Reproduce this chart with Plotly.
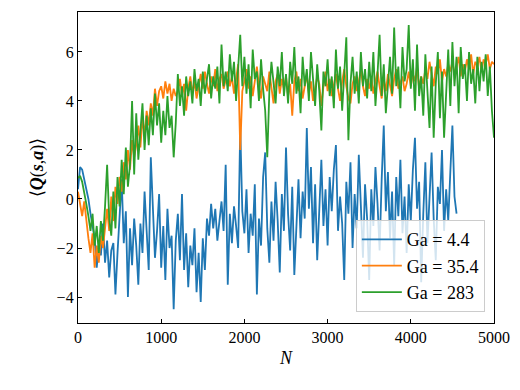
import plotly.graph_objects as go

N_STEP = 25

ga_283 = [
    0.85, 0.95, 0.7, 0.3, -0.2, -0.7, -1.3, -0.6, -1.9, -1.1, -2.2, -0.9, -1.7, -0.3, 1.4, -0.8, -1.5, 0.3, -1.2, 0.9,
    -0.3, 1.6, 0.2, 2.1, 0.5, 1.4, 4.0, 1.0, 3.5, 1.6, 2.6, 3.9, 2.0, 3.4, 2.2, 3.7, 2.6, 4.3, 3.0, 3.9,
    2.3, 3.6, 2.6, 4.2, 2.9, 3.4, 1.7, 3.1,
    5.1, 3.8, 4.6, 3.4, 5.0, 4.2, 4.8, 3.9, 5.3, 4.4, 4.9, 3.8,
    5.2, 4.3, 4.9, 5.5, 4.1, 5.0, 4.5, 5.4, 3.9, 6.3, 4.6, 5.2,
    4.4, 5.9, 4.8, 5.6, 4.0, 5.3, 6.7, 4.6,
    5.8, 4.3, 5.5, 3.7, 6.1, 4.9, 5.2, 4.0, 5.7, 4.5, 3.6, 1.7, 4.4, 5.6, 4.8, 3.9, 5.4, 4.6, 6.0, 4.2,
    5.1, 3.9, 5.6, 4.7, 6.2, 4.3, 5.0, 3.5, 5.8, 4.6, 5.3, 4.0, 6.0, 4.8, 3.8, 5.5, 4.4, 2.8, 5.2, 4.6,
    5.7, 4.2, 5.0, 3.7, 6.1, 4.5, 5.4, 3.6, 4.9, 6.6, 2.4, 4.7, 5.8, 4.3, 5.2, 3.9, 6.0, 4.6, 5.3, 4.1,
    5.6, 4.4, 6.0, 3.8, 5.1, 6.7, 4.2, 5.5, 3.5, 4.9, 5.8, 4.3, 7.0, 4.6, 5.4, 3.7, 6.2, 4.8, 5.3, 7.1,
    4.5, 5.7, 3.6, 6.3, 4.2, 5.0, 3.4, 5.9, 4.1, 2.9, 5.4, 2.5, 4.7, 6.0, 3.3, 5.2, 2.5, 4.4, 6.1, 3.8,
    6.4, 4.6, 5.8, 3.5, 6.2, 4.9, 5.5, 4.0, 6.0, 4.7, 5.3, 3.9, 5.8, 4.4, 5.6, 4.8, 5.9, 4.2, 5.4, 3.6, 2.5,
]

ga_35_4 = [
    0.3, -0.2, -0.7, -0.1, -1.0, -1.6, -2.2, -1.4, -2.8, -1.9, -2.6, -1.5, -2.0, -1.1, -0.4, -1.3, 0.1, -0.9, 0.5, -0.2,
    0.9, 0.3, 1.5, 0.8, 2.0, 1.2, 2.4, 1.7, 2.2, 3.0, 2.1, 3.3, 2.6, 3.6, 3.0, 3.9, 3.4, 4.5, 3.8, 4.4,
    4.6, 4.1, 4.8, 4.3, 4.7, 4.0, 4.5, 4.2,
    4.4, 4.9, 4.2, 4.7, 3.6, 4.5, 5.0, 4.3, 4.8, 4.1, 4.6, 5.1,
    4.5, 5.2, 4.7, 4.3, 5.0, 4.6, 5.3, 4.4, 4.9, 5.1, 4.5, 4.8,
    5.2, 4.6, 5.0, 4.3, 4.9, 5.5, 2.0, 4.4,
    4.8, 5.3, 4.5, 5.0, 4.2, 4.9, 5.4, 4.6, 4.1, 5.0, 4.7, 4.4, 5.2, 4.6, 3.9, 4.8, 5.1, 4.3, 4.9, 4.5,
    5.0, 4.2, 4.7, 3.4, 4.8, 5.2, 4.4, 4.9, 4.1, 4.6, 5.1, 4.3, 4.8, 4.0, 4.5, 5.0, 4.7, 3.8, 4.6, 5.2,
    4.4, 4.9, 4.2, 4.7, 5.1, 4.5, 4.0, 4.8, 5.3, 4.6, 4.1, 3.9, 4.7, 5.0, 4.4, 4.8, 5.3, 4.6, 4.2, 4.9,
    4.5, 5.0, 4.3, 4.8, 5.2, 4.6, 4.1, 4.9, 4.4, 5.1, 4.7, 4.2, 4.9, 5.3, 4.5, 4.8, 5.0, 4.4, 4.7, 5.2,
    4.6, 5.1, 4.8, 5.4, 4.5, 5.0, 4.7, 5.3, 4.9, 5.6, 5.0, 4.6, 5.4, 5.1, 5.7, 4.8, 5.3, 5.0, 5.5, 5.2,
    5.6, 5.1, 5.4, 5.8, 5.0, 5.5, 5.2, 5.7, 5.3, 5.9, 5.1, 5.6, 5.4, 5.8, 5.2, 5.7, 5.5, 5.9, 5.3, 5.6, 5.5,
]

ga_4_4 = [
    0.4, 1.3, 1.2, 0.8, 0.3, 0.0, -0.6, -1.2, -1.6, -2.8, -1.9, -2.3, -1.0, -2.6, -1.7, -3.2, -2.1, -1.8, -3.9, -2.2,
    -0.6, 0.8, -1.8, -0.5, -4.0, -1.2, -2.7, -0.8, -1.9, -3.5, -1.0, -2.2, 0.3, -1.6, -2.9, 1.7, -0.7, -2.4, -1.3, 0.2,
    -2.8, -1.1, -3.3, -0.4, -2.0, -1.5, -4.5, -1.7, -0.6, -2.5, 0.2, -2.9, -1.4, -3.6, -1.9, -2.7, -1.2, -3.8, -2.2, -4.2,
    -1.6, -2.9, -0.8, -1.5, -0.2, -1.2, -0.4, -1.7, -0.9, -0.1, -1.3, 1.4, -3.5, -0.6, -1.8, -0.3, -1.1, -2.0, 2.9, -0.5,
    -1.4, 0.4, -2.2, -0.6, -1.5, 0.6, -3.9, -0.8, -1.9, 0.9, 1.9, -1.2, -2.6, -0.1, -1.7, 0.7, -0.9, -3.0, 0.2, -1.3,
    2.1, -0.6, -2.1, 0.5, -3.1, -0.9, 0.8, -1.6, 0.3, -0.8, 2.9, -0.4, 1.3, -1.8, 0.6, -2.5, -0.2, 1.6, -1.1, 0.4,
    -1.9, 0.9, -0.5, 1.2, 2.2, -1.3, 0.1, -1.0, -3.3, 0.7, -0.6, 1.5, -2.0, 0.2, -1.2, 1.8, -0.3, -2.4, 0.6, -0.8,
    -3.3, 0.4, -1.1, 1.3, -0.2, -2.1, 0.8, 3.0, -0.5, 1.1, -1.6, 0.3, -2.7, 0.9, -0.7, 1.6, -1.4, 0.1, -2.2, 0.6,
    -0.9, 1.2, 2.5, -0.4, 0.7, -3.4, -0.6, 1.5, -1.8, 0.3, 1.9, -0.8, -2.5, 0.5, -0.2, 2.0, -1.3, 0.4, -0.9, 1.1,
    3.0, 0.1, -0.6,
]

series = [
    ("Ga = 4.4", ga_4_4, "#1f77b4"),
    ("Ga = 35.4", ga_35_4, "#ff7f0e"),
    ("Ga = 283", ga_283, "#2ca02c"),
]

x_ticks = [0, 1000, 2000, 3000, 4000, 5000]
y_ticks = [-4, -2, 0, 2, 4, 6]

FONT = "Liberation Serif"

fig = go.Figure()
for name, vals, color in series:
    fig.add_trace(go.Scatter(
        x=[i * N_STEP for i in range(len(vals))],
        y=vals,
        mode="lines",
        name=name,
        line=dict(color=color, width=1.8),
    ))

axis_common = dict(
    showline=True, linecolor="black", linewidth=1.3, mirror=True,
    ticks="inside", ticklen=4, tickwidth=1, tickcolor="black",
    showgrid=False, zeroline=False, automargin=False,
    tickfont=dict(family=FONT, size=16, color="black"),
)

fig.update_layout(
    width=520, height=390,
    margin=dict(l=70, r=34, t=4, b=75),
    paper_bgcolor="white", plot_bgcolor="white",
    font=dict(family=FONT, color="black"),
    xaxis=dict(range=[0, 5000], tickvals=x_ticks,
               title=dict(text="<i>N</i>", font=dict(family=FONT, size=18), standoff=6),
               **axis_common),
    yaxis=dict(range=[-5.06, 7.63], tickvals=y_ticks,
               title=dict(text="⟨<b><i>Q</i></b>(<b><i>s</i></b>,<b><i>a</i></b>)⟩",
                          font=dict(family=FONT, size=18), standoff=8),
               **axis_common),
    legend=dict(
        x=0.978, y=0.035, xanchor="right", yanchor="bottom",
        bgcolor="rgba(255,255,255,0.8)", bordercolor="#cccccc", borderwidth=1,
        font=dict(family=FONT, size=18, color="black"),
        tracegroupgap=0, itemwidth=40,
    ),
    showlegend=True,
)

fig.write_html("out.html")
